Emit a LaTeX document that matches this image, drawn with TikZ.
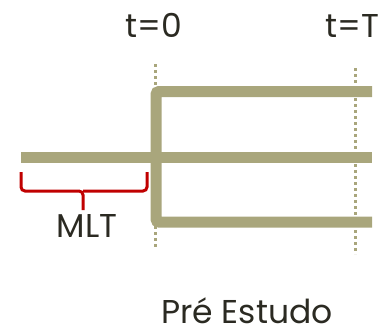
\documentclass[tikz,border=0pt]{standalone}
\usepackage{fontspec}
\setmainfont{Poppins}
\definecolor{caqui}{HTML}{A9A67C}
\definecolor{texto}{HTML}{2B2A22}
\definecolor{chave}{HTML}{C00000}
\begin{document}
\begin{tikzpicture}[x=1pt, y=-1pt,
  linha/.style={caqui, line width=11pt},
  marca/.style={caqui, line width=3pt, dash pattern=on 3pt off 3pt},
  rotulo/.style={texto, inner sep=0pt, anchor=base, text depth=0pt, font=\fontsize{33}{38}\selectfont}]
  \useasboundingbox (0,0) rectangle (383,335);
  % marcas de tempo
  \draw[marca] (155,64) -- (155,88);
  \draw[marca] (155,226) -- (155,250);
  \draw[marca] (355,68) -- (355,254);
  % linhas
  \draw[linha] (21,157.5) -- (372,157.5);
  \draw[linha, rounded corners=3pt] (372,91.5) -- (156,91.5) -- (156,222) -- (372,222);
  % chave
  \draw[chave, line width=3pt, rounded corners=4pt]
    (21,172) -- (21,191) -- (83,191) -- (83,210);
  \draw[chave, line width=3pt, rounded corners=4pt]
    (147,172) -- (147,191) -- (83,191);
  % textos
  \node[rotulo] (t0) at (154,37) {t=0};
  \node[rotulo] (tT) at (352,37) {t=T};
  \node[rotulo] (mlt) at (87,237) {MLT};
  \node[rotulo] (pre) at (247,323) {Pré Estudo};
\end{tikzpicture}
\end{document}
